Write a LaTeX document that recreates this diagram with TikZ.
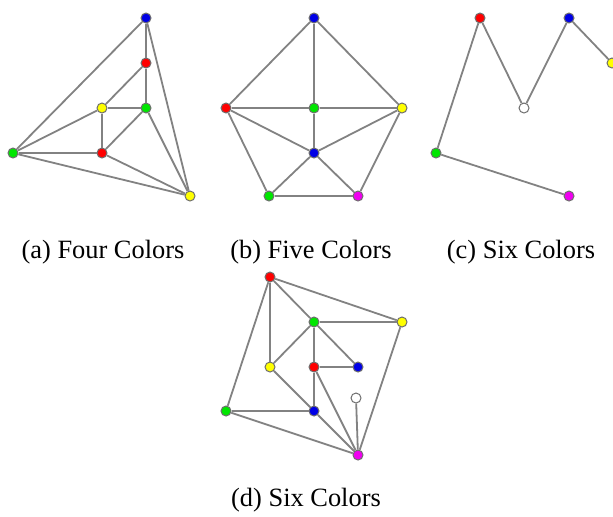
\documentclass[tikz,border=0pt]{standalone}
\usepackage{fontspec}
\setmainfont{Liberation Serif}
\usepackage{xcolor}
\definecolor{rougev}{RGB}{255, 0, 0}
\definecolor{bleuv}{RGB}{0, 0, 230}
\definecolor{vertv}{RGB}{0, 230, 0}
\definecolor{jaunev}{RGB}{255, 255, 0}
\definecolor{magentav}{RGB}{240, 0, 240}
\definecolor{grisarete}{RGB}{130, 130, 130}
\definecolor{grisbord}{RGB}{110, 110, 110}

\tikzset{
  sommet/.style={circle, draw=grisbord, line width=0.5pt,
                 inner sep=0pt, minimum size=5pt},
  arete/.style={draw=grisarete, line width=0.9pt},
  legende/.style={font=\fontsize{13.2}{15}\selectfont, inner sep=0pt}
}

\begin{document}
\begin{tikzpicture}[x=0.5pt, y=-0.5pt]
  \useasboundingbox (0,0) rectangle (613,516);

  % (a) quatre couleurs
  \node[sommet, fill=bleuv]    (a1) at (146,18)  {};
  \node[sommet, fill=rougev]   (a2) at (146,63)  {};
  \node[sommet, fill=jaunev]   (a3) at (102,108) {};
  \node[sommet, fill=vertv]    (a4) at (146,108) {};
  \node[sommet, fill=rougev]   (a5) at (102,153) {};
  \node[sommet, fill=vertv]    (a6) at (13,153)  {};
  \node[sommet, fill=jaunev]   (a7) at (190,196) {};
  \foreach \u/\v in {a1/a2, a1/a6, a1/a7, a2/a3, a2/a4, a3/a4, a3/a5,
                     a3/a6, a4/a5, a4/a7, a5/a6, a5/a7, a6/a7}
    \draw[arete] (\u) -- (\v);

  % (b) cinq couleurs
  \node[sommet, fill=bleuv]    (b1) at (314,18)  {};
  \node[sommet, fill=rougev]   (b2) at (226,108) {};
  \node[sommet, fill=vertv]    (b3) at (314,108) {};
  \node[sommet, fill=jaunev]   (b4) at (402,108) {};
  \node[sommet, fill=bleuv]    (b5) at (314,153) {};
  \node[sommet, fill=vertv]    (b6) at (269,196) {};
  \node[sommet, fill=magentav] (b7) at (358,196) {};
  \foreach \u/\v in {b1/b2, b1/b3, b1/b4, b2/b3, b3/b4, b2/b5, b3/b5,
                     b4/b5, b2/b6, b5/b6, b5/b7, b6/b7, b4/b7}
    \draw[arete] (\u) -- (\v);

  % (c) six couleurs
  \node[sommet, fill=rougev]   (c1) at (480,18)  {};
  \node[sommet, fill=bleuv]    (c2) at (569,18)  {};
  \node[sommet, fill=jaunev]   (c3) at (612,63)  {};
  \node[sommet, fill=white]    (c4) at (524,108) {};
  \node[sommet, fill=vertv]    (c5) at (436,153) {};
  \node[sommet, fill=magentav] (c6) at (569,196) {};
  \foreach \u/\v in {c1/c4, c4/c2, c2/c3, c1/c5, c5/c6}
    \draw[arete] (\u) -- (\v);

  % (d) six couleurs
  \node[sommet, fill=rougev]   (d1) at (270,277) {};
  \node[sommet, fill=vertv]    (d2) at (314,322) {};
  \node[sommet, fill=jaunev]   (d3) at (402,322) {};
  \node[sommet, fill=jaunev]   (d4) at (270,367) {};
  \node[sommet, fill=rougev]   (d5) at (314,367) {};
  \node[sommet, fill=bleuv]    (d6) at (358,367) {};
  \node[sommet, fill=white]    (d7) at (356,398) {};
  \node[sommet, fill=vertv]    (d8) at (226,411) {};
  \node[sommet, fill=bleuv]    (d9) at (314,411) {};
  \node[sommet, fill=magentav] (d10) at (358,455) {};
  \foreach \u/\v in {d1/d3, d1/d2, d1/d4, d1/d8, d2/d3, d2/d4, d2/d5,
                     d2/d6, d5/d6, d5/d9, d5/d10, d4/d9, d8/d9, d8/d10,
                     d9/d10, d7/d10, d3/d10}
    \draw[arete] (\u) -- (\v);

  % legendes
  \node[legende] (la) at (103,252) {(a) Four Colors};
  \node[legende] (lb) at (311,252) {(b) Five Colors};
  \node[legende] (lc) at (521,252) {(c) Six Colors};
  \node[legende] (ld) at (306,500) {(d) Six Colors};
\end{tikzpicture}
\end{document}
